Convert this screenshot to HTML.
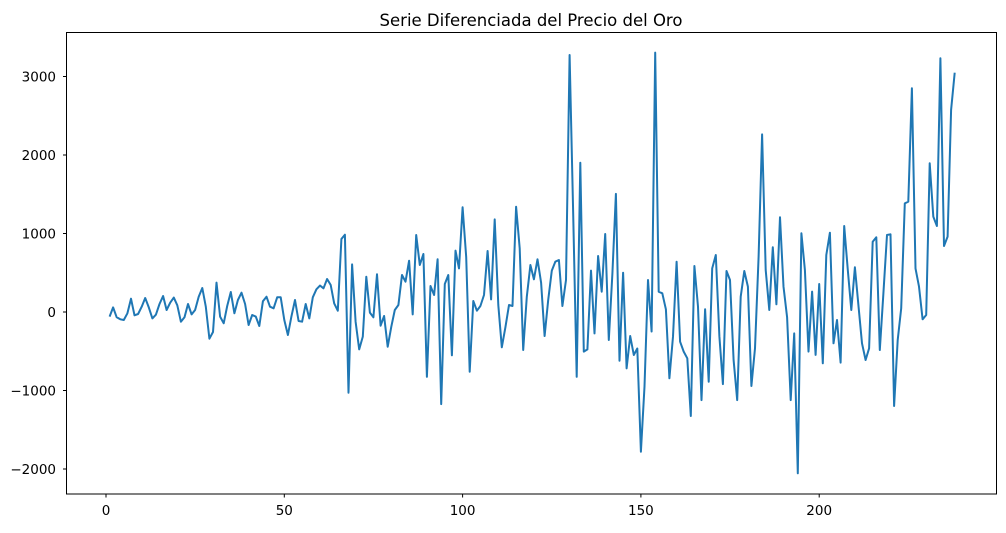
<!DOCTYPE html>
<html><head><meta charset="utf-8"><style>
body{margin:0;background:#fff;}
svg text{font-family:"DejaVu Sans","Liberation Sans",sans-serif;}
</style></head><body>
<svg id="chart" width="1006" height="528" xmlns="http://www.w3.org/2000/svg">
<text x="531" y="26" font-size="16.5" text-anchor="middle" fill="#000">Serie Diferenciada del Precio del Oro</text>
<g id="axes"></g>
<path id="line" fill="none" stroke="#1f77b4" stroke-width="2" stroke-linejoin="round"></path>
<rect x="66.5" y="32.5" width="930" height="461.5" fill="none" stroke="#000" stroke-width="1"/>
</svg>
<script>
const values = [-59,59,-68,-93,-102,-17,170,-42,-25,68,178,59,-81,-34,102,204,25,119,183,85,-123,-68,102,-30,25,195,306,68,-340,-255,374,-59,-144,76,255,-17,153,246,102,-166,-38,-59,-178,136,195,68,47,187,187,-102,-293,
-59,153,-115,-123,102,-81,187,289,336,302,420,344,110,17,930,985,-1028,607,-123,-476,-314,450,-8,-68,480,-174,-51,-442,-187,25,89,471,386,654,-30,981,599,739,-825,331,217,671,-1173,357,471,-552,782,556,
1334,700,-760,140,17,76,217,777,161,1180,89,-450,-195,89,76,1342,811,-484,195,599,416,671,374,-306,153,527,641,662,76,408,3274,1300,-826,1902,-505,-476,527,-272,713,259,994,-357,492,1504,-620,501,-718,-306,-548,-465,
-1780,-950,408,-249,3304,259,238,34,-845,-314,641,-378,-505,-590,-1325,586,68,-1122,34,-888,556,726,-314,-918,522,408,-611,-1122,195,522,323,-943,-463,705,2263,535,25,824,98,1206,323,-68,-1122,-272,-2055,
1002,535,-504,260,-547,357,-654,726,1010,-399,-102,-645,1096,550,25,569,89,-399,-612,-463,896,951,-484,238,981,990,-1197,-357,47,1384,1406,2850,556,323,-93,-38,1894,1215,1096,3232,841,960,2574,3049];
const xTicks = [0,50,100,150,200];
const yTicks = [-2000,-1000,0,1000,2000,3000];
function xs(v){return 106 + v*3.566;}
function ys(v){return 312 - v*0.0785;}
const NS='http://www.w3.org/2000/svg';
const axes=document.getElementById('axes');
xTicks.forEach(t=>{
  const l=document.createElementNS(NS,'line');
  
  
  l.setAttribute('x1',xs(t));l.setAttribute('x2',xs(t));l.setAttribute('y1',494);l.setAttribute('y2',497.5);l.setAttribute('stroke','#000');
  axes.appendChild(l);
  const tx=document.createElementNS(NS,'text');
  
  
  tx.setAttribute('x',xs(t));tx.setAttribute('y',515);tx.setAttribute('font-size','13.5');tx.setAttribute('text-anchor','middle');
  tx.textContent=t;axes.appendChild(tx);
});
yTicks.forEach(t=>{
  const l=document.createElementNS(NS,'line');
  
  
  l.setAttribute('x1',63);l.setAttribute('x2',66.5);l.setAttribute('y1',ys(t));l.setAttribute('y2',ys(t));l.setAttribute('stroke','#000');
  axes.appendChild(l);
  const tx=document.createElementNS(NS,'text');
  
  
  tx.setAttribute('x',56);tx.setAttribute('y',ys(t)+5);tx.setAttribute('font-size','13.5');tx.setAttribute('text-anchor','end');
  tx.textContent=(t<0?'\u2212'+Math.abs(t):t);axes.appendChild(tx);
});
document.getElementById('line').setAttribute('d',values.map((v,i)=>(i?'L':'M')+xs(i+1).toFixed(1)+' '+ys(v).toFixed(1)).join(' '));
</script>
</body></html>
